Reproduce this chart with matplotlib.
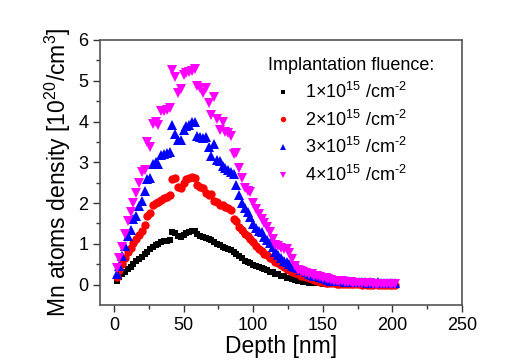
import numpy as np
import matplotlib
matplotlib.use("Agg")
import matplotlib.pyplot as plt

plt.rcParams['font.family'] = ['Liberation Sans', 'DejaVu Sans']
plt.rcParams['mathtext.fontset'] = 'custom'
plt.rcParams['mathtext.rm'] = 'Liberation Sans'
plt.rcParams['mathtext.it'] = 'Liberation Sans:italic'

depth = np.arange(2, 203, 2)   # nm, sampling grid

fluence_1 = [0.10, 0.18, 0.25, 0.30, 0.38, 0.44, 0.50, 0.57, 0.62, 0.68,
             0.74, 0.80, 0.88, 0.93, 0.98, 1.00, 1.04, 1.06, 1.08, 1.10,
             1.30, 1.27, 1.20, 1.18, 1.22, 1.27, 1.30, 1.32, 1.31, 1.24,
             1.20, 1.18, 1.15, 1.13, 1.10, 1.05, 1.00, 0.97, 0.93, 0.90,
             0.88, 0.86, 0.80, 0.76, 0.70, 0.65, 0.58, 0.55, 0.52, 0.48,
             0.46, 0.43, 0.41, 0.38, 0.35, 0.32, 0.30, 0.27, 0.25, 0.22,
             0.20, 0.17, 0.15, 0.13, 0.11, 0.10, 0.08, 0.07, 0.06, 0.05,
             0.04, 0.04, 0.03, 0.03, 0.02, 0.02, 0.02, 0.01, 0.01, 0.01,
             0.01, 0.01, 0.01, 0.00, 0.01, 0.00, 0.00, 0.01, 0.00, 0.00,
             0.00, 0.00, 0.00, 0.00, 0.00, 0.00, 0.00, 0.00, 0.00, 0.00,
             0.00]

fluence_2 = [0.18, 0.35, 0.50, 0.65, 0.80, 0.90, 1.02, 1.12, 1.22, 1.32,
             1.45, 1.68, 1.75, 1.95, 2.00, 2.02, 2.08, 2.12, 2.14, 2.20,
             2.60, 2.62, 2.40, 2.38, 2.50, 2.58, 2.62, 2.65, 2.62, 2.45,
             2.40, 2.38, 2.25, 2.20, 2.22, 2.05, 2.02, 1.95, 1.95, 1.90,
             1.88, 1.82, 1.60, 1.55, 1.42, 1.35, 1.25, 1.20, 1.12, 1.05,
             0.95, 0.88, 0.82, 0.76, 0.72, 0.66, 0.62, 0.56, 0.52, 0.47,
             0.42, 0.38, 0.35, 0.32, 0.28, 0.25, 0.22, 0.20, 0.18, 0.16,
             0.13, 0.11, 0.09, 0.07, 0.06, 0.05, 0.04, 0.03, 0.03, 0.02,
             0.02, 0.02, 0.01, 0.01, 0.01, 0.01, 0.01, 0.01, 0.00, 0.01,
             0.00, 0.00, 0.00, 0.01, 0.00, 0.00, 0.00, 0.00, 0.00, 0.00,
             0.00]

fluence_3 = [0.25, 0.45, 0.70, 0.95, 1.20, 1.35, 1.60, 1.68, 1.92, 2.05,
             2.30, 2.58, 2.62, 2.95, 3.00, 2.95, 3.18, 3.20, 3.22, 3.25,
             3.92, 3.70, 3.55, 3.55, 3.80, 3.90, 3.92, 3.98, 4.00, 3.65,
             3.62, 3.60, 3.63, 3.38, 3.15, 3.45, 3.05, 3.02, 2.90, 2.85,
             2.82, 2.75, 2.72, 2.45, 2.20, 2.00, 1.88, 1.78, 1.66, 1.48,
             1.40, 1.32, 1.28, 1.18, 1.10, 1.02, 0.92, 0.80, 0.72, 0.65,
             0.58, 0.55, 0.50, 0.46, 0.43, 0.40, 0.37, 0.35, 0.30, 0.27,
             0.24, 0.22, 0.20, 0.19, 0.16, 0.14, 0.12, 0.10, 0.10, 0.09,
             0.08, 0.08, 0.07, 0.08, 0.07, 0.06, 0.07, 0.06, 0.06, 0.06,
             0.05, 0.06, 0.05, 0.05, 0.06, 0.05, 0.05, 0.05, 0.05, 0.05,
             0.05]

fluence_4 = [0.40, 0.65, 0.92, 1.25, 1.55, 1.78, 2.00, 2.24, 2.50, 2.75,
             2.80, 3.50, 3.38, 3.95, 4.00, 3.92, 4.25, 4.25, 4.28, 4.32,
             5.27, 5.10, 4.70, 4.80, 5.15, 5.20, 5.22, 5.25, 5.28, 4.86,
             4.82, 4.70, 4.82, 4.45, 4.15, 4.60, 4.05, 3.80, 4.00, 3.75,
             3.72, 3.65, 3.20, 3.22, 2.85, 2.62, 2.38, 2.30, 2.28, 2.00,
             1.85, 1.72, 1.60, 1.50, 1.42, 1.30, 1.12, 0.98, 0.95, 0.90,
             0.88, 0.88, 0.78, 0.62, 0.45, 0.36, 0.33, 0.30, 0.28, 0.27,
             0.26, 0.22, 0.20, 0.18, 0.16, 0.15, 0.14, 0.12, 0.10, 0.09,
             0.08, 0.08, 0.07, 0.06, 0.06, 0.05, 0.04, 0.04, 0.04, 0.03,
             0.03, 0.03, 0.02, 0.02, 0.02, 0.02, 0.02, 0.01, 0.01, 0.01,
             0.01]

labels = [r'1$\times$10$^{15}$ /cm$^{\text{-}2}$', r'2$\times$10$^{15}$ /cm$^{\text{-}2}$',
          r'3$\times$10$^{15}$ /cm$^{\text{-}2}$', r'4$\times$10$^{15}$ /cm$^{\text{-}2}$']
series = [fluence_1, fluence_2, fluence_3, fluence_4]
colors = ['black', 'red', 'blue', 'magenta']
markers = ['s', 'o', '^', 'v']
msizes = [5.0, 6.0, 7.0, 7.5]

fig = plt.figure(figsize=(5.2, 3.6), dpi=100)
ax = fig.add_axes([0.1923, 0.1528, 0.6962, 0.7361])

for y, c, m, s, lab in zip(series, colors, markers, msizes, labels):
    ax.plot(depth, y, linestyle='none', marker=m, color=c, markersize=s,
            markeredgewidth=0, label=lab)

ax.set_xlim(-10, 250)
ax.set_ylim(-0.5, 6)
ax.set_xticks(np.arange(0, 251, 50))
ax.set_xticks(np.arange(25, 251, 50), minor=True)
ax.set_yticks(np.arange(0, 7, 1))
ax.set_yticks(np.arange(0.5, 6, 1), minor=True)
ax.tick_params(which='both', direction='out', top=False, right=False,
               labelsize=13, color='#333333', width=1)
ax.tick_params(which='major', length=5)
ax.tick_params(which='minor', length=3)
for sp in ax.spines.values():
    sp.set_color('#555555')
    sp.set_linewidth(1.2)

ax.set_xlabel('Depth [nm]', fontsize=16.5, labelpad=1)
ax.set_ylabel(r'Mn atoms density [10$^{20}$/cm$^3$]', fontsize=16.5, labelpad=4)

leg = ax.legend(loc='upper left', bbox_to_anchor=(0.445, 0.962),
                title='Implantation fluence:', frameon=False,
                fontsize=13, title_fontsize=13, markerscale=0.65,
                handlelength=1.6, handletextpad=0.45, labelspacing=0.42,
                borderaxespad=0.0)
leg._legend_box.align = 'left'

fig.savefig('out.png', dpi=100)
